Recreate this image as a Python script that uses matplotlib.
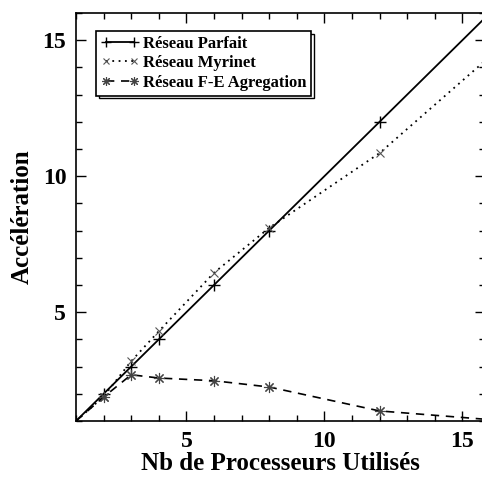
import matplotlib
matplotlib.use("Agg")
import matplotlib.pyplot as plt
from matplotlib.ticker import MultipleLocator

plt.rcParams['font.family'] = ['Liberation Serif', 'DejaVu Serif']
plt.rcParams['font.weight'] = 'bold'

procs = [1, 2, 3, 4, 6, 8, 12, 16]
parfait = [1, 2, 3, 4, 6, 8, 12, 16]
myrinet_x = [1, 2, 3, 4, 6, 8, 12, 16]
myrinet = [1, 1.9, 3.2, 4.3, 6.45, 8.1, 10.85, 14.4]
agreg_x = [1, 2, 3, 4, 6, 8, 12, 16]
agreg = [1, 1.88, 2.7, 2.58, 2.48, 2.25, 1.37, 1.05]

labels = ["Réseau Parfait", "Réseau Myrinet", "Réseau F-E Agregation"]

fig = plt.figure(figsize=(4.82, 4.83), dpi=100)
ax = fig.add_axes([76/482, 1-421/483, (485-76)/482, (421-13)/483])

ax.plot(procs, parfait, color='black', lw=1.3, marker='+', ms=9, mew=1.0,
        markevery=list(range(1, len(procs))), label=labels[0])
ax.plot(myrinet_x, myrinet, color='black', lw=1.3, ls=(0, (1, 2.5)), marker='x', ms=6,
        mew=0.8, mec='#555555', markevery=list(range(1, len(myrinet_x))), label=labels[1])
ax.plot(agreg_x, agreg, color='black', lw=1.2, ls=(0, (5, 4)), marker=(8, 2, 0), ms=8,
        mew=0.8, mec='#444444', markevery=list(range(1, len(agreg_x))), label=labels[2])

ax.set_xlim(1, 15.82)
ax.set_ylim(1, 16)
ax.xaxis.set_major_locator(MultipleLocator(5))
ax.xaxis.set_minor_locator(MultipleLocator(1))
ax.yaxis.set_major_locator(MultipleLocator(5))
ax.yaxis.set_minor_locator(MultipleLocator(1))
ax.tick_params(which='both', direction='in', top=True, right=True, width=1.0)
ax.tick_params(which='major', length=7, labelsize=17, pad=7)
ax.tick_params(which='minor', length=4)
for s in ax.spines.values():
    s.set_linewidth(1.2)

ax.set_xlabel("Nb de Processeurs Utilisés", fontsize=18, fontweight='bold', labelpad=0)
ax.set_ylabel("Accélération", fontsize=18, fontweight='bold', labelpad=6)

leg = ax.legend(loc='upper left', bbox_to_anchor=(20/409, 1-18/408), fontsize=12,
                frameon=True, fancybox=False, borderaxespad=0, handlelength=2.3,
                handletextpad=0.2, labelspacing=0.2, borderpad=0.3, numpoints=2,
                markerscale=0.8,
                shadow={'facecolor': 'white', 'edgecolor': 'black', 'linewidth': 1.0, 'alpha': 1.0})
leg.get_frame().set_edgecolor('black')
leg.get_frame().set_linewidth(1.2)
leg.get_frame().set_alpha(1)

fig.savefig("out.png", dpi=100)
